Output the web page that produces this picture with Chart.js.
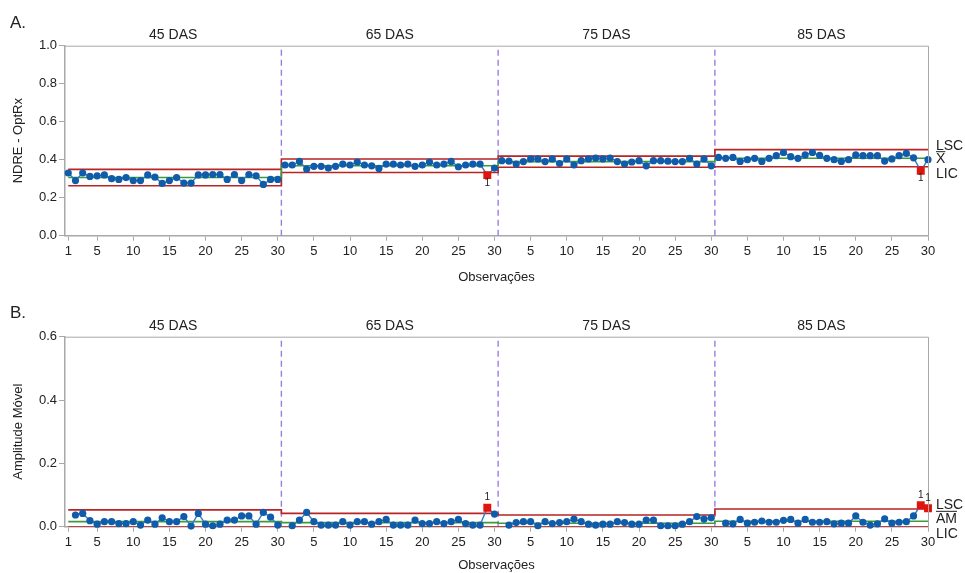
<!DOCTYPE html>
<html><head><meta charset="utf-8">
<script src="https://cdn.jsdelivr.net/npm/chart.js@4/dist/chart.umd.min.js"></script>
<style>
html,body{margin:0;padding:0;background:#fff;width:965px;height:573px;overflow:hidden}
.p{position:absolute;left:0;width:965px}
#pa{top:0;height:290px}
#pb{top:290px;height:283px}
</style></head><body>
<div class="p" id="pa"><canvas id="ca" width="965" height="290"></canvas></div>
<div class="p" id="pb"><canvas id="cb" width="965" height="283"></canvas></div>
<script>
// ---- data ----
const stages = ['45 DAS', '65 DAS', '75 DAS', '85 DAS'];
const obsTicks = [1, 5, 10, 15, 20, 25, 30];        // within-stage tick labels
const yTicksA = [0.0, 0.2, 0.4, 0.6, 0.8, 1.0];
const yTicksB = [0.0, 0.2, 0.4, 0.6];

const ndre45 = [0.330,0.290,0.330,0.312,0.315,0.320,0.300,0.296,0.306,0.290,0.290,0.320,0.308,0.275,0.290,0.306,0.277,0.277,0.320,0.320,0.322,0.322,0.296,0.322,0.290,0.322,0.315,0.270,0.296,0.296];
const ndre65 = [0.372,0.372,0.391,0.351,0.365,0.365,0.356,0.365,0.377,0.372,0.388,0.372,0.368,0.354,0.377,0.377,0.372,0.377,0.365,0.372,0.388,0.372,0.377,0.391,0.363,0.372,0.377,0.377,0.319,0.356];
const ndre75 = [0.395,0.392,0.377,0.390,0.404,0.404,0.390,0.404,0.380,0.404,0.372,0.395,0.404,0.409,0.404,0.409,0.390,0.377,0.388,0.395,0.368,0.395,0.395,0.392,0.390,0.390,0.407,0.377,0.404,0.368];
const ndre85 = [0.412,0.407,0.412,0.391,0.400,0.407,0.391,0.407,0.421,0.438,0.416,0.407,0.425,0.438,0.423,0.407,0.400,0.391,0.400,0.425,0.421,0.421,0.421,0.393,0.404,0.421,0.433,0.410,0.342,0.400];

const ndreLSC = [0.349, 0.404, 0.419, 0.453];
const ndreMean = [0.306, 0.368, 0.390, 0.408];
const ndreLIC = [0.263, 0.333, 0.360, 0.363];
const ndreOut = [[], [29], [], [29]];

const mr45 = [null,0.037,0.042,0.019,0.008,0.016,0.016,0.010,0.010,0.016,0.005,0.021,0.008,0.028,0.016,0.016,0.032,0.002,0.042,0.008,0.003,0.008,0.021,0.021,0.034,0.034,0.008,0.045,0.030,0.005];
const mr65 = [null,0.003,0.021,0.045,0.016,0.005,0.005,0.005,0.016,0.005,0.016,0.016,0.008,0.016,0.023,0.005,0.005,0.005,0.021,0.010,0.010,0.016,0.010,0.016,0.023,0.010,0.005,0.005,0.060,0.040];
const mr75 = [null,0.005,0.013,0.016,0.016,0.003,0.016,0.010,0.013,0.016,0.024,0.016,0.008,0.005,0.008,0.008,0.016,0.013,0.008,0.008,0.021,0.021,0.003,0.003,0.003,0.008,0.016,0.032,0.024,0.028];
const mr85 = [null,0.011,0.009,0.023,0.011,0.014,0.018,0.014,0.014,0.020,0.023,0.011,0.023,0.014,0.014,0.016,0.009,0.011,0.011,0.034,0.014,0.005,0.009,0.025,0.011,0.014,0.016,0.034,0.068,0.058];

const mrLSC = [0.053, 0.042, 0.037, 0.056];
const mrMean = [0.016, 0.013, 0.011, 0.017];
const mrLIC = [0, 0, 0, 0];
const mrOut = [[], [29], [], [29, 30]];

// ---- styling ----
const FONT = "'Liberation Sans', Arial, sans-serif";
const TXT = '#222';
const AXIS = '#a8a8a8';
const BLUE = '#0f5cab';
const LINEBLUE = '#3b78c0';
const RED = '#b82525';
const GREEN = '#3a9d3a';
const FLAG = '#e0140c';
const PURPLE = '#9a7de0';
const N = 30;

const tickVals = [];
stages.forEach((s, k) => obsTicks.forEach(t => { if (k === 0 || t !== 1) tickVals.push(k * N + t); }));

function stepPoints(vals) {
  const pts = [];
  vals.forEach((v, k) => {
    const a = k === 0 ? 1 : k * N + 0.5;
    const b = k === vals.length - 1 ? stages.length * N : (k + 1) * N + 0.5;
    pts.push({x: a, y: v}, {x: b, y: v});
  });
  return pts;
}

function makePanel(id, series, lsc, mid, lic, outs, yMax, yTicks, yTitle, centerText, letter, flagBelow, plotBottom) {
  const canvas = document.getElementById(id);
  const H = canvas.height;
  const datasets = [];
  series.forEach((arr, k) => {
    const isOut = i => outs[k].includes(i + 1);
    datasets.push({
      data: arr.map((v, i) => ({x: k * N + i + 1, y: v})),
      borderColor: LINEBLUE, borderWidth: 1.4, spanGaps: false, tension: 0,
      pointRadius: c => isOut(c.dataIndex) ? 5.6 : 3.6,
      pointHoverRadius: c => isOut(c.dataIndex) ? 5.6 : 3.6,
      pointStyle: c => isOut(c.dataIndex) ? 'rect' : 'circle',
      pointBackgroundColor: c => isOut(c.dataIndex) ? FLAG : BLUE,
      pointBorderWidth: 0,
      clip: 4
    });
  });
  datasets.push({data: stepPoints(mid), borderColor: GREEN, borderWidth: 1.6, pointRadius: 0, tension: 0});
  datasets.push({data: stepPoints(lsc), borderColor: RED, borderWidth: 1.6, pointRadius: 0, tension: 0});
  datasets.push({data: stepPoints(lic), borderColor: RED, borderWidth: 1.6, pointRadius: 0, tension: 0});
  for (let k = 1; k < stages.length; k++) {
    datasets.push({data: [{x: k * N + 0.5, y: 0}, {x: k * N + 0.5, y: yMax}], borderColor: PURPLE,
      borderWidth: 1.4, borderDash: [6, 4], pointRadius: 0});
  }

  const deco = {
    id: 'deco',
    afterDatasetsDraw(chart) {
      const {ctx, chartArea: ca, scales: {x, y}} = chart;
      ctx.save();
      // frame top & right
      ctx.strokeStyle = AXIS; ctx.lineWidth = 1;
      ctx.beginPath();
      ctx.moveTo(ca.left, ca.top + 0.5); ctx.lineTo(ca.right + 0.5, ca.top + 0.5); ctx.lineTo(ca.right + 0.5, ca.bottom);
      ctx.stroke();
      // stage titles
      ctx.fillStyle = TXT; ctx.font = '14px ' + FONT; ctx.textAlign = 'center'; ctx.textBaseline = 'middle';
      stages.forEach((s, k) => {
        const a = Math.max(ca.left, x.getPixelForValue(k * N + 0.5));
        const b = Math.min(ca.right, x.getPixelForValue((k + 1) * N + 0.5));
        ctx.fillText(s, (a + b) / 2, ca.top - 11);
      });
      // "1" flags
      ctx.font = '10px ' + FONT;
      series.forEach((arr, k) => outs[k].forEach(i => {
        const px = x.getPixelForValue(k * N + i), py = y.getPixelForValue(arr[i - 1]);
        ctx.fillText('1', px, flagBelow ? py + 8 : py - 10);
      }));
      // right-side labels
      const last = stages.length - 1;
      const ySC = y.getPixelForValue(lsc[last]), yLI = y.getPixelForValue(lic[last]);
      const yC = (ySC + yLI) / 2;
      const lx = ca.right + 8;
      ctx.font = '14px ' + FONT; ctx.textAlign = 'left'; ctx.textBaseline = 'alphabetic';
      ctx.fillText('LSC', lx, ySC + 0.5);
      ctx.fillText('LIC', lx, yLI + 11.5);
      ctx.fillText(centerText, lx, yC + 5);
      const w = ctx.measureText(centerText).width;
      ctx.strokeStyle = TXT; ctx.lineWidth = 1;
      ctx.beginPath(); ctx.moveTo(lx, yC - 6.5); ctx.lineTo(lx + w, yC - 6.5); ctx.stroke();
      // panel letter
      ctx.font = '17px ' + FONT;
      ctx.fillText(letter, 10, 28);
      ctx.restore();
    }
  };

  return new Chart(canvas, {
    type: 'line',
    data: {datasets},
    plugins: [deco],
    options: {
      responsive: false, animation: false, devicePixelRatio: 1,
      layout: {padding: {top: id === 'ca' ? 45.7 : 46.7, right: 37, left: 0, bottom: 0}},
      plugins: {legend: {display: false}, tooltip: {enabled: false}},
      events: [],
      scales: {
        x: {
          type: 'linear', min: 0.55, max: stages.length * N,
          afterBuildTicks: s => { s.ticks = tickVals.map(v => ({value: v})); },
          afterFit: s => { s.height = H - plotBottom; },
          ticks: {autoSkip: false, maxRotation: 0, padding: 3, color: TXT, font: {family: FONT, size: 13},
            callback: v => String(((v - 1) % N) + 1)},
          grid: {display: true, drawOnChartArea: false, drawTicks: true, tickLength: 5, color: AXIS},
          border: {display: true, color: AXIS, width: 1.5},
          title: {display: true, text: 'Observações', color: TXT, font: {family: FONT, size: 13},
            padding: {top: 0, bottom: id === 'ca' ? 5 : 0}}
        },
        y: {
          type: 'linear', min: 0, max: yMax,
          afterBuildTicks: s => { s.ticks = yTicks.map(v => ({value: v})); },
          afterFit: s => { s.width = 65; },
          ticks: {padding: 2, color: TXT, font: {family: FONT, size: 13}, callback: v => Number(v).toFixed(1)},
          grid: {display: true, drawOnChartArea: false, drawTicks: true, tickLength: 6, color: AXIS},
          border: {display: true, color: AXIS, width: 1.5},
          title: {display: true, text: yTitle, color: TXT, font: {family: FONT, size: 13}, padding: {top: 11}}
        }
      }
    }
  });
}

makePanel('ca', [ndre45, ndre65, ndre75, ndre85], ndreLSC, ndreMean, ndreLIC, ndreOut, 1.0, yTicksA,
  'NDRE - OptRx', 'X', 'A.', true, 235.7);
makePanel('cb', [mr45, mr65, mr75, mr85], mrLSC, mrMean, mrLIC, mrOut, 0.6, yTicksB,
  'Amplitude Móvel', 'AM', 'B.', false, 236.7);
</script>
</body></html>
